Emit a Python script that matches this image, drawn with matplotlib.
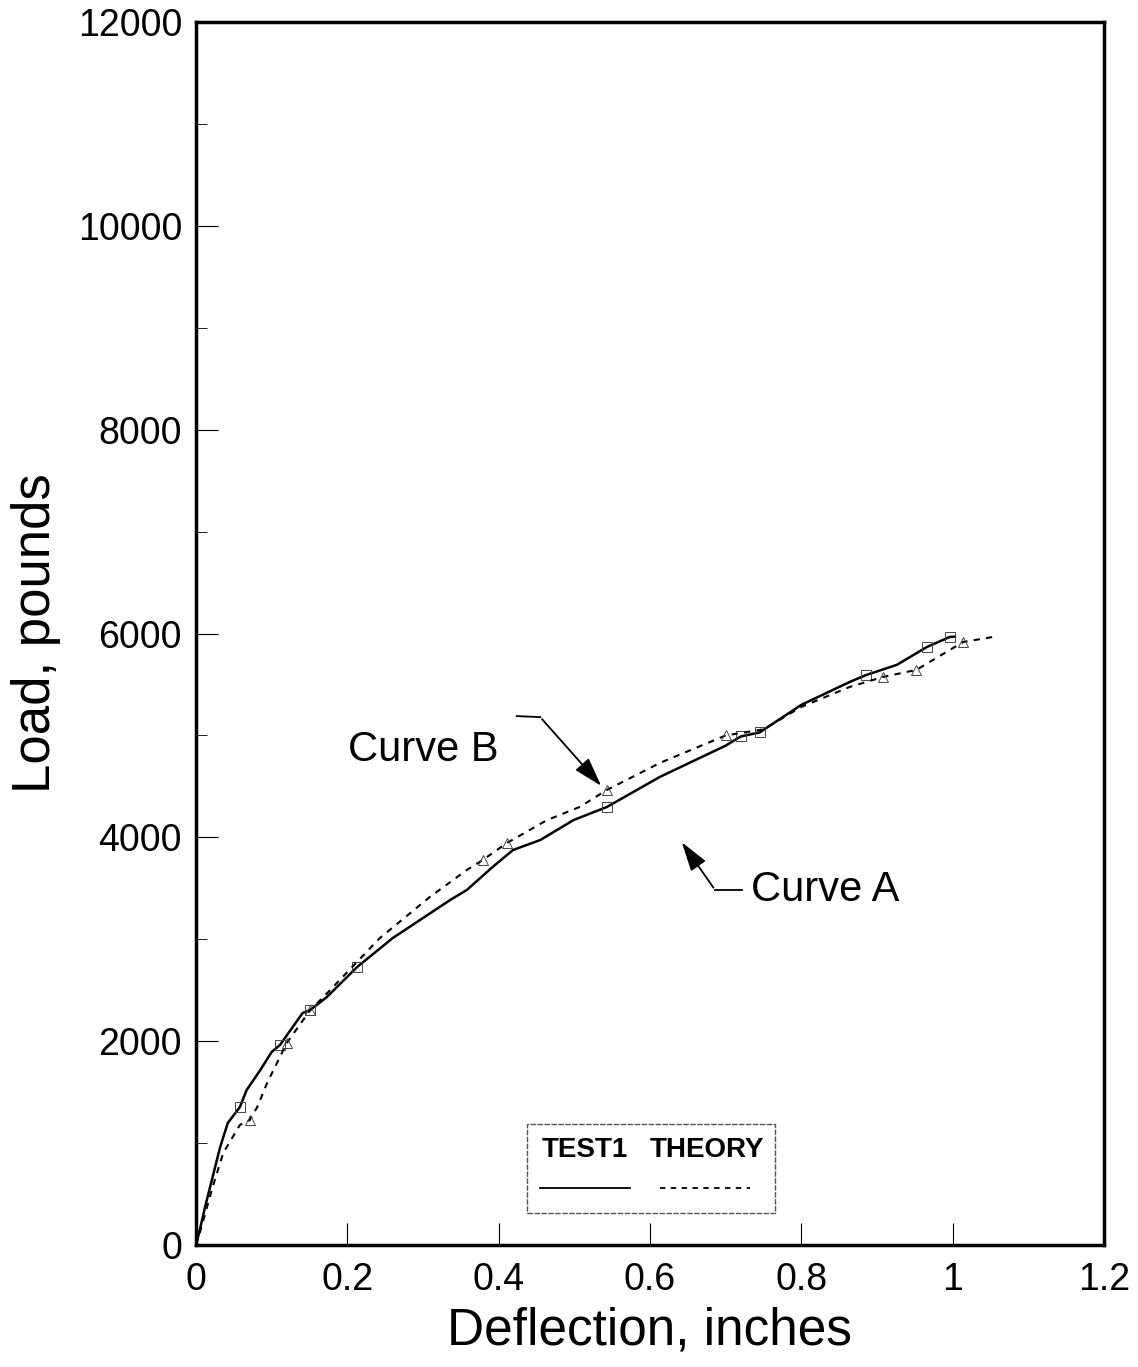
import matplotlib.pyplot as plt
from matplotlib.patches import Rectangle
from matplotlib.ticker import MultipleLocator

plt.rcParams["font.family"] = ["Liberation Sans", "DejaVu Sans"]

# Curve A - TEST1 (solid)
test_defl = [0.0, 0.005, 0.012, 0.021, 0.032, 0.042, 0.058, 0.067, 0.085, 0.100,
             0.111, 0.141, 0.151, 0.173, 0.213, 0.260, 0.336, 0.358, 0.392, 0.419,
             0.455, 0.499, 0.543, 0.613, 0.700, 0.720, 0.745, 0.800, 0.864, 0.886,
             0.926, 0.966, 0.996, 1.003]
test_load = [0, 147, 373, 638, 962, 1197, 1354, 1521, 1717, 1894,
             1963, 2277, 2306, 2434, 2728, 3012, 3386, 3484, 3709, 3876,
             3974, 4170, 4298, 4593, 4900, 4990, 5030, 5300, 5525, 5594,
             5692, 5868, 5966, 5970]
test_marks = [6, 10, 12, 14, 22, 25, 26, 29, 31, 32]

# Curve B - THEORY (dashed)
theory_defl = [0.0, 0.005, 0.022, 0.036, 0.058, 0.071, 0.081, 0.094, 0.107, 0.120,
               0.151, 0.168, 0.243, 0.309, 0.358, 0.379, 0.411, 0.464, 0.507, 0.543,
               0.613, 0.700, 0.750, 0.800, 0.864, 0.908, 0.952, 0.992, 1.014, 1.053]
theory_load = [0, 118, 569, 903, 1178, 1227, 1354, 1590, 1786, 1982,
               2306, 2430, 3012, 3415, 3680, 3778, 3945, 4170, 4298, 4465,
               4730, 5000, 5060, 5280, 5476, 5574, 5643, 5820, 5917, 5966]
theory_marks = [5, 9, 10, 15, 16, 19, 21, 25, 26, 28]

x_ticks = [0, 0.2, 0.4, 0.6, 0.8, 1.0, 1.2]
x_tick_labels = ["0", "0.2", "0.4", "0.6", "0.8", "1", "1.2"]
y_ticks = [0, 2000, 4000, 6000, 8000, 10000, 12000]

fig = plt.figure(figsize=(11.38, 13.67), dpi=100)
ax = fig.add_axes([0.1722, 0.0892, 0.7979, 0.8947])

ax.plot(test_defl, test_load, color="black", linewidth=1.8,
        marker="s", markersize=7, markerfacecolor="none",
        markeredgewidth=0.7, markeredgecolor="#444444", markevery=test_marks)
ax.plot(theory_defl, theory_load, color="black", linewidth=1.5,
        linestyle=(0, (3, 3)), marker="^", markersize=7, markerfacecolor="none",
        markeredgewidth=0.7, markeredgecolor="#444444", markevery=theory_marks)

ax.set_xlim(0, 1.2)
ax.set_ylim(0, 12000)
ax.set_xticks(x_ticks)
ax.set_xticklabels(x_tick_labels)
ax.set_yticks(y_ticks)
ax.yaxis.set_minor_locator(MultipleLocator(1000))
ax.tick_params(axis="both", which="major", direction="in", length=16, width=0.8,
               labelsize=27)
ax.tick_params(axis="x", pad=12)
ax.tick_params(axis="y", pad=10)
ax.tick_params(axis="y", which="minor", direction="in", length=8, width=0.6)

for side in ax.spines.values():
    side.set_linewidth(2.5)

ax.set_xlabel("Deflection, inches", fontsize=37, labelpad=6)
ax.set_ylabel("Load, pounds", fontsize=38, labelpad=12)

# annotations
ax.annotate("", xy=(0.538, 4485), xytext=(0.455, 5180),
            arrowprops=dict(arrowstyle="-|>,head_length=1.8,head_width=0.55",
                            color="black", lw=1.3))
ax.plot([0.424, 0.455], [5190, 5180], color="black", linewidth=1.3)
ax.text(0.400, 4857, "Curve B", fontsize=30, ha="right", va="center")

ax.annotate("", xy=(0.640, 3974), xytext=(0.686, 3484),
            arrowprops=dict(arrowstyle="-|>,head_length=1.8,head_width=0.55",
                            color="black", lw=1.3))
ax.plot([0.686, 0.722], [3484, 3484], color="black", linewidth=1.3)
ax.text(0.733, 3484, "Curve A", fontsize=30, ha="left", va="center")

# legend box
ax.add_patch(Rectangle((0.3645, 0.026), 0.2732, 0.073, transform=ax.transAxes,
                       fill=False, edgecolor="#555555", linewidth=1.0,
                       linestyle=(0, (4, 1))))
ax.text(0.428, 0.078, "TEST1", transform=ax.transAxes, fontsize=20,
        fontweight="bold", ha="center", va="center")
ax.text(0.563, 0.078, "THEORY", transform=ax.transAxes, fontsize=20,
        fontweight="bold", ha="center", va="center")
ax.plot([0.379, 0.478], [0.047, 0.047], transform=ax.transAxes,
        color="black", linewidth=1.3)
ax.plot([0.511, 0.610], [0.047, 0.047], transform=ax.transAxes,
        color="black", linewidth=1.3, linestyle=(0, (3, 3)))

fig.savefig("out.png", dpi=100)
